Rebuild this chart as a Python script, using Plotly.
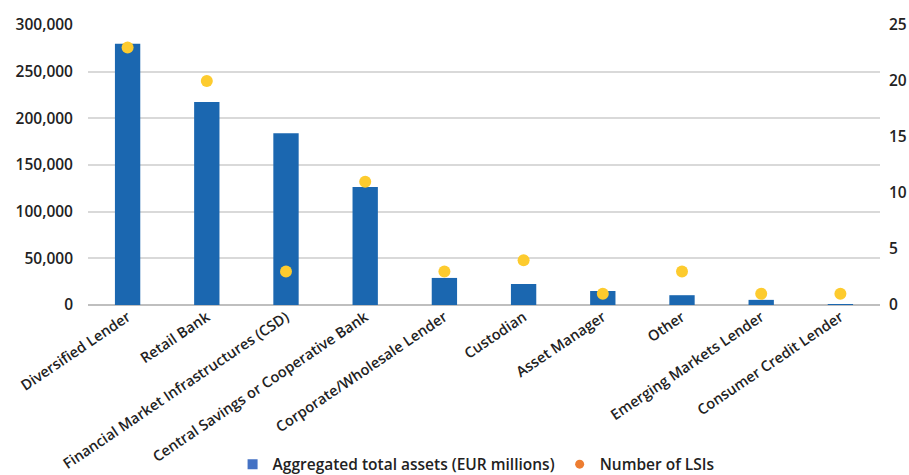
import plotly.graph_objects as go

categories = [
    "Diversified Lender",
    "Retail Bank",
    "Financial Market Infrastructures (CSD)",
    "Central Savings or Cooperative Bank",
    "Corporate/Wholesale Lender",
    "Custodian",
    "Asset Manager",
    "Other",
    "Emerging Markets Lender",
    "Consumer Credit Lender",
]
total_assets = [280000, 217500, 184000, 126500, 29000, 22500, 15000, 10500, 5500, 1000]
num_lsis = [23, 20, 3, 11, 3, 4, 1, 3, 1, 1]

left_ticks = [0, 50000, 100000, 150000, 200000, 250000, 300000]
right_ticks = [0, 5, 10, 15, 20, 25]

FONT = "Open Sans"
TEXT = "#222222"
BAR_COLOR = "#1b67b0"
DOT_COLOR = "#fdcb2e"

fig = go.Figure()

fig.add_trace(go.Bar(
    x=categories, y=total_assets,
    marker=dict(color=BAR_COLOR, line=dict(width=0)),
    showlegend=False, yaxis="y",
))
fig.add_trace(go.Scatter(
    x=categories, y=num_lsis, mode="markers",
    marker=dict(color=DOT_COLOR, size=12),
    showlegend=False, yaxis="y2",
))

# legend-only entries
fig.add_trace(go.Scatter(
    x=[None], y=[None], mode="markers",
    marker=dict(symbol="square", color="#4472c4", size=10),
    name="Aggregated total assets (EUR millions)",
))
fig.add_trace(go.Scatter(
    x=[None], y=[None], mode="markers",
    marker=dict(symbol="circle", color="#ed7d31", size=9),
    name="Number of LSIs",
))

fig.update_layout(
    width=909, height=475,
    margin=dict(l=88, r=29, t=25, b=170, autoexpand=False),
    paper_bgcolor="white", plot_bgcolor="white",
    font=dict(family=FONT, size=14, color=TEXT),
    bargap=0.68,
    xaxis=dict(
        range=[-0.5, len(categories) - 0.5],
        tickangle=-34, tickfont=dict(size=14.6, color=TEXT, weight=600),
        showgrid=False, showline=False, ticks="", automargin=False,
    ),
    yaxis=dict(
        range=[0, 300000], tickvals=left_ticks,
        tickformat=",", tickfont=dict(size=15.5, color=TEXT, weight=600),
        showgrid=True, gridcolor="#d9d9d9", gridwidth=1.5,
        zeroline=True, zerolinecolor="#bfbfbf", zerolinewidth=1.5,
        ticklabelstandoff=14, automargin=False,
    ),
    yaxis2=dict(
        range=[0, 25], tickvals=right_ticks,
        overlaying="y", side="right",
        tickfont=dict(size=15.5, color=TEXT, weight=600),
        showgrid=False, zeroline=False,
        ticklabelstandoff=8, automargin=False,
    ),
    legend=dict(
        orientation="h", x=0.49, xanchor="center",
        yref="container", y=0.022, yanchor="middle",
        font=dict(size=15.5, color=TEXT, weight=600), itemwidth=30,
    ),
)

fig.write_html("out.html")
